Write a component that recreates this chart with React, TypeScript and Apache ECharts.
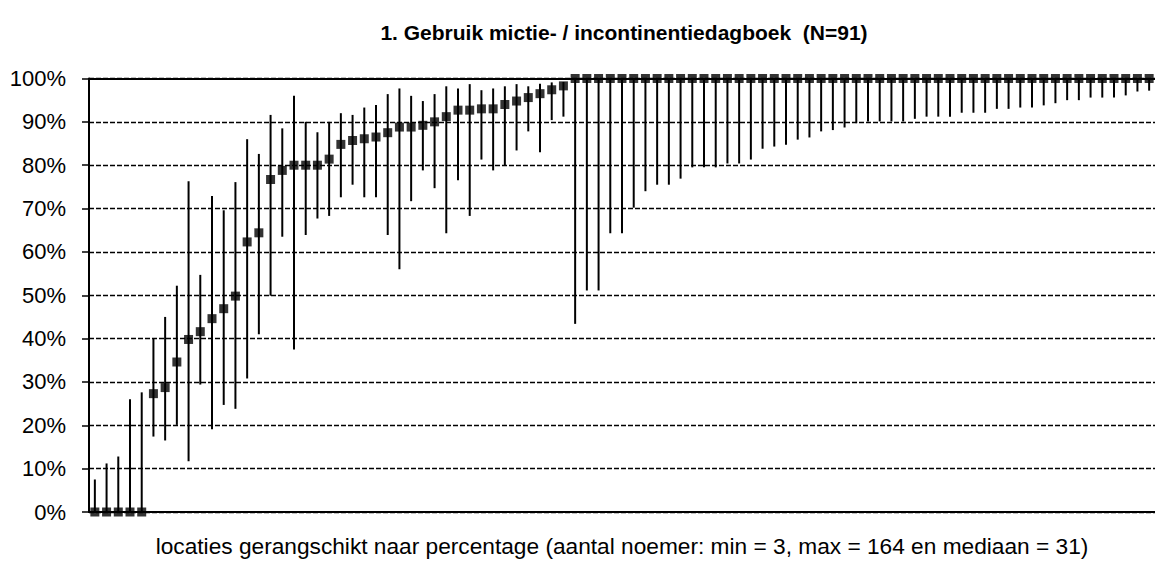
import React, { useEffect, useRef } from "react";
import * as echarts from "echarts";

const TITLE = "1. Gebruik mictie- / incontinentiedagboek  (N=91)";
const X_NAME = "locaties gerangschikt naar percentage (aantal noemer: min = 3, max = 164 en mediaan = 31)";

const locations: string[] = Array.from({ length: 91 }, (_, i) => `L${i + 1}`);

const percentage: number[] = [
  0, 0, 0, 0, 0, 27.3, 28.7, 34.6, 39.8, 41.6,
  44.6, 46.9, 49.8, 62.3, 64.4, 76.7, 78.8, 80, 80, 80,
  81.4, 84.8, 85.7, 86.1, 86.5, 87.5, 88.8, 88.8, 89.2, 90,
  91.2, 92.7, 92.7, 93, 93, 94, 94.8, 95.6, 96.5, 97.4,
  98.3, 100, 100, 100, 100, 100, 100, 100, 100, 100,
  100, 100, 100, 100, 100, 100, 100, 100, 100, 100,
  100, 100, 100, 100, 100, 100, 100, 100, 100, 100,
  100, 100, 100, 100, 100, 100, 100, 100, 100, 100,
  100, 100, 100, 100, 100, 100, 100, 100, 100, 100,
  100,
];

const upperBound: number[] = [
  7.5, 11.2, 12.8, 26, 27.6, 40.1, 45, 52.2, 76.3, 54.7,
  72.9, 69.6, 76.1, 86, 82.6, 91.6, 88.5, 96, 90, 87.6,
  90, 92, 91.6, 93.3, 93.9, 96.4, 97.7, 96, 94.8, 96.4,
  98.2, 97.7, 98.7, 97.3, 97.7, 98.2, 98.7, 98.2, 98.8, 99.1,
  99.2, 100, 100, 100, 100, 100, 100, 100, 100, 100,
  100, 100, 100, 100, 100, 100, 100, 100, 100, 100,
  100, 100, 100, 100, 100, 100, 100, 100, 100, 100,
  100, 100, 100, 100, 100, 100, 100, 100, 100, 100,
  100, 100, 100, 100, 100, 100, 100, 100, 100, 100,
  100,
];

const lowerBound: number[] = [
  0, 0, 0, 0, 0, 17.4, 16.5, 20.1, 11.7, 29.4,
  19.1, 24.7, 23.8, 30.8, 41, 49.9, 63.5, 37.5, 63.9, 67.7,
  68.3, 72.6, 75.5, 72.6, 72.6, 63.9, 56, 71.7, 78.8, 74.7,
  64.3, 76.5, 68.3, 81.3, 78.8, 80, 83.4, 87.8, 83, 90.4,
  91.2, 43.4, 51.1, 51.1, 64.3, 64.3, 70.2, 74, 75.5, 75.5,
  76.9, 79.5, 79.5, 79.5, 80.4, 80.4, 81.3, 83.8, 84.3, 84.7,
  85.9, 86.4, 87.8, 88.1, 88.7, 89.7, 90.1, 90.1, 90.1, 90.1,
  90.7, 91.2, 91.2, 91.2, 92.1, 92.1, 92.1, 93, 93, 93.3,
  93.3, 93.8, 94.3, 95, 95, 95.6, 95.6, 95.6, 96.1, 97,
  97.2,
];

const yTicks = [0, 10, 20, 30, 40, 50, 60, 70, 80, 90, 100];

const FONT = "'Liberation Sans', Arial, sans-serif";

export default function App() {
  const ref = useRef<HTMLDivElement>(null);

  useEffect(() => {
    if (!ref.current) return;
    const chart = echarts.init(ref.current, null, { renderer: "svg" });
    const option: any = {
      animation: false,
      backgroundColor: "#ffffff",
      title: {
        text: TITLE,
        left: 619,
        textAlign: "center",
        top: 17,
        textStyle: { fontFamily: FONT, fontSize: 21, fontWeight: "bold", color: "#000" },
      },
      grid: { left: 89, top: 78.5, width: 1067.4, height: 436 },
      xAxis: [
        {
          type: "category",
          data: locations,
          position: "bottom",
          boundaryGap: true,
          name: X_NAME,
          nameLocation: "middle",
          nameGap: 22,
          nameTextStyle: { fontFamily: FONT, fontSize: 22.7, color: "#000", verticalAlign: "top" },
          axisLine: { show: true, onZero: false, lineStyle: { color: "#000", width: 2 } },
          axisTick: { show: false },
          axisLabel: { show: false },
          splitLine: { show: false },
        },
        {
          type: "category",
          data: locations,
          position: "top",
          boundaryGap: true,
          axisLine: { show: true, onZero: false, lineStyle: { color: "#000", width: 2 } },
          axisTick: { show: false },
          axisLabel: { show: false },
          splitLine: { show: false },
        },
      ],
      yAxis: {
        type: "value",
        min: yTicks[0],
        max: yTicks[yTicks.length - 1],
        interval: 10,
        axisLine: { show: true, lineStyle: { color: "#000", width: 2 } },
        axisTick: { show: true, length: 7, lineStyle: { color: "#000", width: 1.5 } },
        axisLabel: {
          formatter: "{value}%",
          fontFamily: FONT,
          fontSize: 22,
          color: "#000",
          margin: 23,
        },
        splitLine: { show: true, lineStyle: { color: "#000", width: 1.3, type: [5, 2] } },
      },
      series: [
        {
          type: "custom",
          name: "betrouwbaarheidsinterval",
          xAxisIndex: 0,
          data: locations.map((_, i) => [i, lowerBound[i], upperBound[i]]),
          renderItem: (params: any, api: any) => {
            const i = api.value(0);
            const lo = api.coord([i, api.value(1)]);
            const hi = api.coord([i, api.value(2)]);
            return {
              type: "line",
              shape: { x1: lo[0], y1: lo[1], x2: hi[0], y2: hi[1] },
              style: { stroke: "#000", lineWidth: 2 },
            };
          },
          z: 3,
        },
        {
          type: "scatter",
          name: "percentage",
          xAxisIndex: 0,
          data: locations.map((_, i) => [i, percentage[i]]),
          symbol: "rect",
          symbolSize: 9,
          itemStyle: { color: "#000" },
          z: 4,
        },
      ],
    };
    chart.setOption(option);
    return () => chart.dispose();
  }, []);

  return (
    <div
      ref={ref}
      style={{ position: "fixed", left: 0, top: 0, width: 1155, height: 562, background: "#fff" }}
    />
  );
}
